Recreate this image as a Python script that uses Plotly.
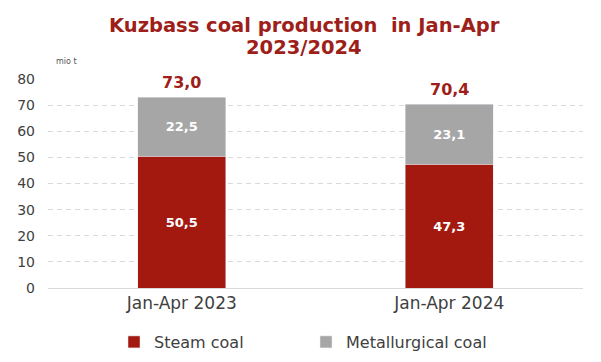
import plotly.graph_objects as go

categories = ["Jan-Apr 2023", "Jan-Apr 2024"]
steam = [50.5, 47.3]
metallurgical = [22.5, 23.1]
totals = [73.0, 70.4]
tick_vals = [0, 10, 20, 30, 40, 50, 60, 70, 80]
title_lines = ["Kuzbass coal production  in Jan-Apr", "2023/2024"]

def fmt(v):
    return f"{v:.1f}".replace(".", ",")

FONT = "Verdana, DejaVu Sans, sans-serif"
RED = "#A3190F"
GREY = "#A6A6A6"
TITLE_RED = "#9E1E1A"
TXT = "#404040"

# page body has an 8px default margin; size the figure to fit the window
OFF = 8
W, H = 601 - OFF, 362 - OFF
ML, MT = 48 - OFF, 79 - OFF
MR = W - (583 - OFF)
MB = H - (288 - OFF)
PH = H - MT - MB
PW = W - ML - MR

def py(s):
    # screen pixel row -> paper y
    return (H - MB - (s - OFF)) / PH

def pxp(s):
    return ((s - OFF) - ML) / PW

fig = go.Figure()
fig.add_trace(go.Bar(
    x=categories, y=steam, name="Steam coal", marker_color=RED,
    text=[fmt(v) for v in steam], textposition="inside", insidetextanchor="middle",
    textfont=dict(color="white", size=13, family=FONT, weight="bold"),
))
fig.add_trace(go.Bar(
    x=categories, y=metallurgical, name="Metallurgical coal", marker_color=GREY,
    text=[fmt(v) for v in metallurgical], textposition="inside", insidetextanchor="middle",
    textfont=dict(color="white", size=13, family=FONT, weight="bold"),
))
for c, t in zip(categories, totals):
    fig.add_annotation(x=c, y=t, text=f"<b>{fmt(t)}</b>", showarrow=False,
                       yanchor="bottom", yshift=3,
                       font=dict(color=TITLE_RED, size=16, family=FONT))

fig.add_annotation(xref="paper", yref="paper", x=pxp(54), y=py(61), text="mio t",
                   showarrow=False, xanchor="left", yanchor="middle",
                   font=dict(size=8, color="#555555", family=FONT))

for line, ys in zip(title_lines, [26, 47]):
    fig.add_annotation(xref="paper", yref="paper", x=pxp(304), y=py(ys),
                       text=f"<b>{line}</b>", showarrow=False,
                       xanchor="center", yanchor="middle",
                       font=dict(size=19.5, color=TITLE_RED, family=FONT))

fig.update_layout(
    width=W, height=H,
    barmode="stack", bargap=0.67,
    paper_bgcolor="white", plot_bgcolor="white",
    margin=dict(l=ML, r=MR, t=MT, b=MB, autoexpand=False),
    font=dict(family=FONT, color=TXT),
    showlegend=True,
    legend=dict(orientation="h", x=pxp(114), xanchor="left",
                y=py(342), yanchor="middle",
                font=dict(size=16, color=TXT, family=FONT),
                itemwidth=30, traceorder="normal", tracegroupgap=0,
                entrywidth=147),
    xaxis=dict(showline=True, linecolor="#D9D9D9", linewidth=1, automargin=False,
               tickfont=dict(size=17, color=TXT), ticks=""),
    yaxis=dict(range=[0, 80], tickvals=tick_vals, showgrid=True, automargin=False,
               gridcolor="#D9D9D9", griddash="5px,4px", zeroline=False,
               tickfont=dict(size=14, color=TXT), ticklabelstandoff=12),
)

fig.write_html("out.html")
